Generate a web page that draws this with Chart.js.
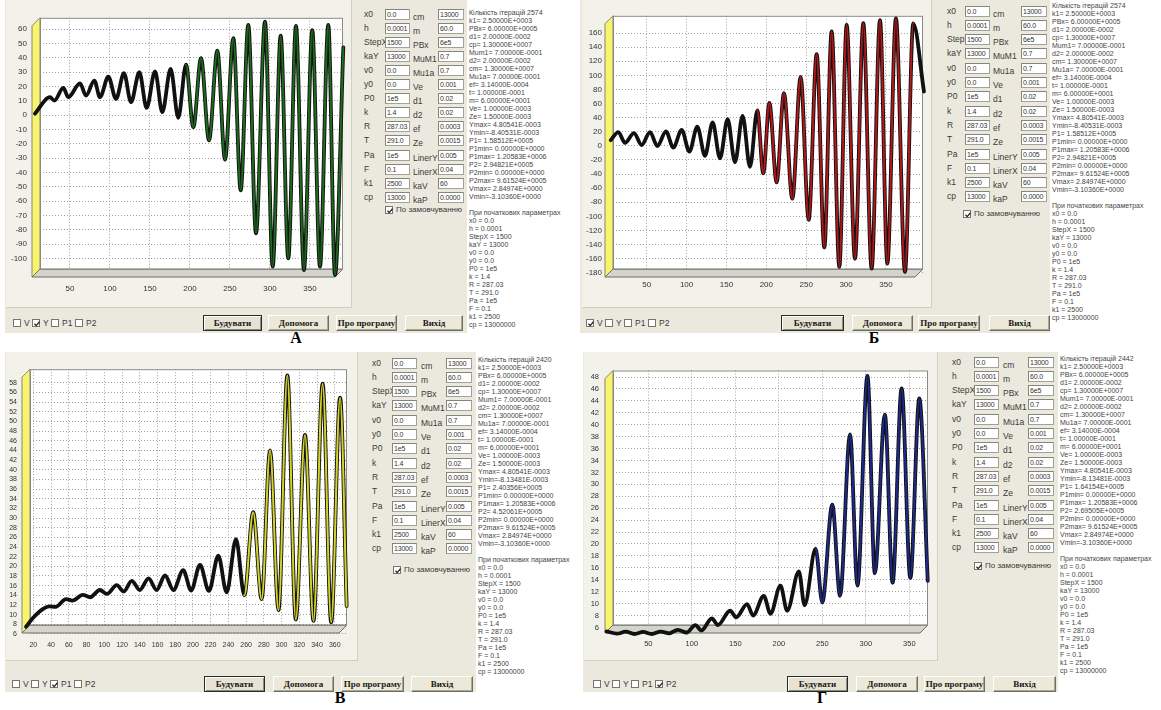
<!DOCTYPE html>
<html>
<head>
<meta charset="utf-8">
<title>Y, V, P1, P2</title>
<script src="https://cdn.jsdelivr.net/npm/chart.js@4.4.1/dist/chart.umd.min.js"></script>
<style>
  html, body { margin: 0; padding: 0; background: #fff; }
  body { position: relative; width: 1161px; height: 710px; overflow: hidden;
         font-family: "Liberation Sans", Arial, sans-serif; color: #2a2a2a; }
  .abs { position: absolute; box-sizing: border-box; }
  .win { background: #ebe9de; }
  .cpanel { background: #f2f1ea; border-right: 1px solid #d2cfc2; border-bottom: 1px solid #d2cfc2; }
  .lbl { font-size: 8.5px; line-height: 10px; white-space: nowrap; color: #3a3a3a; }
  .lbl.small { font-size: 8px; }
  .inp { background: #fff; border: 1px solid #a3a299; border-top-color: #86857c; border-left-color: #86857c;
         font-size: 7px; letter-spacing: -0.2px; line-height: 9px; padding-left: 1px; white-space: nowrap; overflow: hidden; color: #333; }
  .cb { width: 8px; height: 8px; border: 1px solid #77766e; background: #fff; }
  .cb svg { position: absolute; left: 0; top: 0; }
  .btn { background: #ece9d8; border: 1px solid; border-color: #fff #6f6d63 #6f6d63 #fff;
         box-shadow: inset -1px -1px #aca899; font-family: "Liberation Serif", serif; font-weight: bold;
         font-size: 9px; text-align: center; color: #1a1a1a; white-space: nowrap; }
  .btn.def { border: 1px solid #2a2a2a; box-shadow: inset 1px 1px #fff, inset -1px -1px #8d8b80; background: #e6e3d3; }
  .log { background: #fff; font-size: 7px; line-height: 8px; white-space: pre; overflow: hidden; color: #444; padding-left: 2px; }
  .letter { font-family: "Liberation Serif", serif; font-weight: bold; font-size: 16px; line-height: 16px; color: #000; }
</style>
</head>
<body>
<script>
// А: Y (displacement)
const yX   = [6.2, 25, 30.4, 41.7, 47.9, 62.5, 70, 80.4, 87.5, 97.9, 107.5, 117.5, 126.3, 136.7, 145.8, 156.3, 165.4, 175.8, 185.4, 195,
              204.2, 213.8, 223.8, 234.2, 243.8, 254.2, 263.4, 272.9, 282.5, 293.8, 303.4, 313.4, 322.9, 332.5, 342.5, 352.9, 362.5, 372.9, 381.3, 391.7];
const yVal = [1, 12.5, 10.1, 19, 12.5, 22.2, 13.6, 24.1, 12.5, 26.8, 11.3, 29.2, 9, 29.9, 5, 30.5, 2, 32.2, -1.9, 35.2,
              -8.4, 39.8, -17.7, 44.9, -31.1, 53.7, -52.5, 63, -82.6, 65.3, -105.8, 55.4, -100, 62.3, -108.1, 59.3, -105.8, 63, -111.6, 47.2];

// Б: V (velocity)
const vX   = [4.9, 14.5, 22.8, 34.1, 43.7, 54.2, 63.4, 74.2, 83.4, 93.9, 103.5, 113.5, 123.1, 132.7, 141.9, 151.5, 160.7, 170.3, 179.5, 188.7,
              196.2, 203.8, 212.9, 222.1, 232.6, 243, 253.1, 263.1, 272.7, 281.9, 291.5, 300.7, 311.1, 321.6, 332, 342.5, 351.7, 362.5, 373.8, 384.2, 397.6];
const vVal = [8, 19.5, 4.3, 18.1, 1.1, 19.5, -0.3, 20.4, -2.6, 22.7, -8.2, 27.3, -14.1, 33.3, -17.8, 37.9, -23.4, 42.5, -29.8, 50.4,
              -39, 61, -51.9, 74.8, -75, 97.8, -104.9, 130.1, -144, 162.3, -171.7, 171.5, -160.2, 173.8, -174, 178.4, -167.1, 180.7, -178.6, 173.8, 77.1];

// В: P1
const p1X   = [11.7, 20, 31, 38, 45, 57, 64, 76, 84, 95, 103, 114, 122, 131, 140, 150, 159, 168.5, 178, 189,
               198, 208, 218, 228.6, 238, 248.6, 258, 268, 277.5, 287, 296.5, 306.5, 316, 326.4, 336, 346.3, 356, 366, 373.4];
const p1Val = [7.5, 9.4, 11.2, 11.7, 11.6, 13.2, 12.9, 14.1, 13.6, 15.1, 14.3, 16.1, 14.8, 17, 15.1, 17.5, 15.1, 18.1, 15.1, 19.2,
               15, 20.3, 14.9, 22.2, 14.6, 25.6, 14, 31.2, 13.2, 44, 10.9, 59.5, 9, 47.2, 8.7, 57.8, 8.4, 54.9, 11.8];

// Г: P2
const p2X   = [2, 14, 24, 34, 44, 54, 64, 74, 84, 94, 104, 111, 123, 130, 144, 151, 163.5, 170.5, 182.7, 190.4,
               201.9, 209.6, 223.1, 229.6, 242.3, 250, 261.5, 270.4, 281.9, 290.4, 301.9, 310.4, 321.9, 330.8, 341.2, 351.2, 361.5, 371.2];
const p2Val = [5.35, 4.95, 5.3, 4.9, 5.25, 4.9, 5.3, 5.0, 5.6, 5.15, 6.4, 5.5, 7.5, 6.4, 8.8, 7.7, 9.9, 8, 11.3, 8.3,
               13, 8.8, 15.4, 9.7, 19.2, 10.2, 26.6, 11.3, 38.4, 13, 48.2, 15.1, 41.7, 13.5, 46.1, 14.3, 44.4, 13.8];

// tick labels
const xTicksA = [50, 100, 150, 200, 250, 300, 350];
const yTicksA = [-100, -90, -80, -70, -60, -50, -40, -30, -20, -10, 0, 10, 20, 30, 40, 50, 60];
const xTicksB = [50, 100, 150, 200, 250, 300, 350];
const yTicksB = [-180, -160, -140, -120, -100, -80, -60, -40, -20, 0, 20, 40, 60, 80, 100, 120, 140, 160];
const xTicksC = [20, 40, 60, 80, 100, 120, 140, 160, 180, 200, 220, 240, 260, 280, 300, 320, 340, 360];
const yTicksC = [6, 8, 10, 12, 14, 16, 18, 20, 22, 24, 26, 28, 30, 32, 34, 36, 38, 40, 42, 44, 46, 48, 50, 52, 54, 56, 58];
const xTicksD = [50, 100, 150, 200, 250, 300, 350];
const yTicksD = [6, 8, 10, 12, 14, 16, 18, 20, 22, 24, 26, 28, 30, 32, 34, 36, 38, 40, 42, 44, 46, 48];

// form fields
const leftNames  = ['x0', 'h', 'StepX', 'kaY', 'v0', 'y0', 'P0', 'k', 'R', 'T', 'Pa', 'F', 'k1', 'cp'];
const leftVals   = ['0.0', '0.0001', '1500', '13000', '0.0', '0.0', '1e5', '1.4', '287.03', '291.0', '1e5', '0.1', '2500', '13000'];
const rightNames = ['cm', 'm', 'PBx', 'MuM1', 'Mu1a', 'Ve', 'd1', 'd2', 'ef', 'Ze', 'LinerY', 'LinerX', 'kaV', 'kaP'];
const rightVals  = ['13000', '60.0', '6e5', '0.7', '0.7', '0.001', '0.02', '0.02', '0.0003', '0.0015', '0.005', '0.04', '60', '0.0000'];
const startParams = ['x0 = 0.0', 'h = 0.0001', 'StepX = 1500', 'kaY = 13000', 'v0 = 0.0', 'y0 = 0.0', 'P0 = 1e5',
                     'k = 1.4', 'R = 287.03', 'T = 291.0', 'Pa = 1e5', 'F = 0.1', 'k1 = 2500', 'cp = 13000000'];
const checkNames = ['V', 'Y', 'P1', 'P2'];
const buttonNames = ['Будувати', 'Допомога', 'Про програму', 'Вихід'];

const DEPTH = 8;

function logText(iter, ymin, p1, p2) {
  return ['Кількість ітерацій ' + iter,
    'k1= 2.50000E+0003', 'PBx= 6.00000E+0005', 'd1= 2.00000E-0002', 'cp= 1.30000E+0007',
    'Mum1= 7.00000E-0001', 'd2= 2.00000E-0002', 'cm= 1.30000E+0007', 'Mu1a= 7.00000E-0001',
    'ef= 3.14000E-0004', 't= 1.00000E-0001', 'm= 6.00000E+0001', 'Ve= 1.00000E-0003',
    'Ze= 1.50000E-0003', 'Ymax= 4.80541E-0003', 'Ymin=' + ymin, 'P1= ' + p1,
    'P1min= 0.00000E+0000', 'P1max= 1.20583E+0006', 'P2= ' + p2, 'P2min= 0.00000E+0000',
    'P2max= 9.61524E+0005', 'Vmax= 2.84974E+0000', 'Vmin=-3.10360E+0000',
    '', 'При початкових параметрах'].concat(startParams).join('\n');
}

const panels = [
  { win: [5, 0, 462, 333], cpanel: [6, 0, 346, 308],
    area: {L: 40, T: 17, R: 343, B: 277}, xr: [12.5, 391.3], yr: [-113, 67.9], yPad: 13, xPad: 7, font: 8,
    xs: yX, ys: yVal, xTicks: xTicksA, yTicks: yTicksA, color: '#1e6a1e',
    form: {lab1: 364, in1: 385, w1: 25, lab2: 413, in2: 438, w2: 26, top: 8.5, step: 14.1},
    def: {x: 385, y: 210},
    log: [467, 8, 106, 325], logPad: 1, logText: logText(2574, '-8.40531E-0003', '1.58512E+0005', '2.94821E+0005'),
    checks: {x: 13, y: 323}, checked: 1,
    btnY: 315, btnH: 16, btns: [[203, 59], [268, 61], [336, 61], [405, 58]],
    letter: {ch: 'А', x: 296, y: 338} },
  { win: [580, 0, 470, 333], cpanel: [582, 0, 350, 308],
    area: {L: 613, T: 9, R: 923, B: 277}, xr: [7.8, 396.4], yr: [-186, 184.4], yPad: 11, xPad: 3, font: 8,
    xs: vX, ys: vVal, xTicks: xTicksB, yTicks: yTicksB, color: '#b0181c',
    form: {lab1: 947, in1: 965, w1: 25, lab2: 993, in2: 1021, w2: 26, top: 5.5, step: 14.3},
    def: {x: 963, y: 214},
    log: [1050, 0, 108, 333], logPad: 2, logText: logText(2574, '-8.40531E-0003', '1.58512E+0005', '2.94821E+0005'),
    checks: {x: 586, y: 323}, checked: 0,
    btnY: 315, btnH: 16, btns: [[781, 63], [852, 61], [918, 62], [989, 61]],
    letter: {ch: 'Б', x: 874, y: 338} },
  { win: [5, 352, 471, 340], cpanel: [6, 352, 352, 309],
    area: {L: 30, T: 368, R: 347, B: 633}, xr: [16.2, 373.8], yr: [6.2, 60.8], yPad: 13, xPad: 8, font: 7,
    xs: p1X, ys: p1Val, xTicks: xTicksC, yTicks: yTicksC, color: '#d6d42a',
    form: {lab1: 372, in1: 392, w1: 25, lab2: 421, in2: 446, w2: 26, top: 357.5, step: 14.3},
    def: {x: 393, y: 570},
    log: [476, 352, 104, 340], logPad: 4, logText: logText(2420, '-8.13481E-0003', '2.40356E+0005', '4.52061E+0005'),
    checks: {x: 12, y: 684}, checked: 2,
    btnY: 676, btnH: 16, btns: [[204, 61], [273, 61], [341, 63], [411, 62]],
    letter: {ch: 'В', x: 340, y: 698} },
  { win: [583, 352, 475, 340], cpanel: [584, 352, 354, 309],
    area: {L: 613, T: 365, R: 928, B: 633}, xr: [9.4, 371.5], yr: [5.07, 49.1], yPad: 14, xPad: 6, font: 7.5,
    xs: p2X, ys: p2Val, xTicks: xTicksD, yTicks: yTicksD, color: '#1c2a8c',
    form: {lab1: 952, in1: 974, w1: 25, lab2: 1003, in2: 1028, w2: 26, top: 356.5, step: 14.3},
    def: {x: 974, y: 566},
    log: [1058, 352, 103, 340], logPad: 3, logText: logText(2442, '-8.13481E-0003', '1.64154E+0005', '2.69505E+0005'),
    checks: {x: 593, y: 684}, checked: 3,
    btnY: 676, btnH: 16, btns: [[787, 61], [856, 62], [924, 61], [993, 63]],
    letter: {ch: 'Г', x: 822, y: 698} }
];

function box(cls, x, y, w, h, html) {
  const d = document.createElement('div');
  d.className = 'abs ' + cls;
  d.style.left = x + 'px';
  d.style.top = y + 'px';
  if (w != null) d.style.width = w + 'px';
  if (h != null) d.style.height = h + 'px';
  if (html != null) d.innerHTML = html;
  document.body.appendChild(d);
  return d;
}

const tick = '<svg width="8" height="8"><path d="M1.5 3.8 L3.2 5.6 L6.5 1.8" stroke="#222" stroke-width="1.3" fill="none"/></svg>';

function checkbox(x, y, on) {
  box('cb', x, y - 4, null, null, on ? tick : '');
}

function poly(ctx, pts, fill, stroke) {
  ctx.beginPath();
  pts.forEach((p, i) => i ? ctx.lineTo(p[0], p[1]) : ctx.moveTo(p[0], p[1]));
  ctx.closePath();
  ctx.fillStyle = fill;
  ctx.fill();
  ctx.strokeStyle = stroke;
  ctx.lineWidth = 1;
  ctx.stroke();
}

// TeeChart-like 3D box: white back wall, yellow left wall, grey floor
const wall3d = {
  id: 'wall3d',
  beforeDraw(chart) {
    const {ctx, chartArea: a} = chart;
    const d = DEPTH;
    ctx.save();
    ctx.fillStyle = '#fff';
    ctx.fillRect(a.left, a.top, a.right - a.left, a.bottom - d - a.top);
    poly(ctx, [[a.left - d, a.top + d], [a.left, a.top], [a.left, a.bottom - d], [a.left - d, a.bottom]], '#f8f56c', '#85847a');
    ctx.restore();
  },
  beforeDatasetsDraw(chart) {
    const {ctx, chartArea: a} = chart;
    const d = DEPTH;
    ctx.save();
    poly(ctx, [[a.left, a.bottom - d], [a.right, a.bottom - d], [a.right - d, a.bottom], [a.left - d, a.bottom]], '#d4d3cc', '#6f6e66');
    ctx.strokeStyle = '#8a8a84';
    ctx.lineWidth = 1;
    ctx.strokeRect(a.left + 0.5, a.top + 0.5, a.right - a.left - 1, a.bottom - d - a.top);
    ctx.restore();
  }
};

function makeChart(p) {
  const [cl, ct, cw, ch] = p.cpanel;
  const a = p.area;
  const canvas = document.createElement('canvas');
  canvas.width = cw;
  canvas.height = ch;
  canvas.style.cssText = `position:absolute;left:${cl}px;top:${ct}px;width:${cw}px;height:${ch}px;`;
  document.body.appendChild(canvas);

  const pts = p.xs.map((x, i) => ({x: x, y: p.ys[i]}));
  const line = {pointRadius: 0, cubicInterpolationMode: 'monotone', clip: false, fill: false,
                borderCapStyle: 'round', borderJoinStyle: 'round'};
  // the coloured face of the ribbon only shows on the steep strokes
  const steep = ctx => {
    const dx = Math.abs(ctx.p1.x - ctx.p0.x) || 1;
    return Math.abs(ctx.p1.y - ctx.p0.y) / dx > 8 ? p.color : 'rgba(0,0,0,0)';
  };
  const font = {family: 'Liberation Sans', size: p.font};
  const grid = {color: '#a0a0a0', lineWidth: 1, drawTicks: false};
  const border = {display: false, dash: [1, 2]};

  new Chart(canvas, {
    type: 'line',
    data: {
      datasets: [
        Object.assign({data: pts, borderColor: p.color, borderWidth: 2, order: 0, segment: {borderColor: steep}}, line),
        Object.assign({data: pts, borderColor: '#111', borderWidth: 3.8, order: 1}, line)
      ]
    },
    options: {
      responsive: false,
      animation: false,
      events: [],
      layout: {padding: {left: 0, top: a.T - ct, right: cl + cw - a.R, bottom: 0}},
      plugins: {legend: {display: false}, tooltip: {enabled: false}},
      scales: {
        x: {
          type: 'linear', min: p.xr[0], max: p.xr[1],
          afterFit: s => { s.height = ct + ch - a.B; },
          afterBuildTicks: s => { s.ticks = p.xTicks.map(v => ({value: v})); },
          grid: grid, border: border,
          ticks: {padding: p.xPad, autoSkip: false, maxRotation: 0, color: '#333', font: font}
        },
        y: {
          type: 'linear', min: p.yr[0], max: p.yr[1],
          afterFit: s => { s.width = a.L - cl; },
          afterBuildTicks: s => { s.ticks = p.yTicks.map(v => ({value: v})); },
          grid: grid, border: border,
          ticks: {padding: p.yPad, autoSkip: false, color: '#333', font: font}
        }
      }
    },
    plugins: [wall3d]
  });
}

function buildPanel(p) {
  box('win', p.win[0], p.win[1], p.win[2], p.win[3]);
  box('cpanel', p.cpanel[0], p.cpanel[1], p.cpanel[2], p.cpanel[3]);
  makeChart(p);

  const f = p.form;
  for (let i = 0; i < 14; i++) {
    const y = f.top + i * f.step;
    box('lbl', f.lab1, y, null, null, leftNames[i]);
    box('inp', f.in1, y, f.w1, 11, leftVals[i]);
    box('lbl', f.lab2, y + 3, null, null, rightNames[i]);
    box('inp', f.in2, y, f.w2, 11, rightVals[i]);
  }
  checkbox(p.def.x, p.def.y, true);
  box('lbl small', p.def.x + 11, p.def.y - 5, null, null, 'По замовчуванню');

  const lg = box('log', p.log[0], p.log[1], p.log[2], p.log[3]);
  lg.style.paddingTop = p.logPad + 'px';
  lg.textContent = p.logText;

  const offs = [0, 19, 38, 62];
  checkNames.forEach((n, i) => {
    checkbox(p.checks.x + offs[i], p.checks.y, i === p.checked);
    box('lbl', p.checks.x + offs[i] + 11, p.checks.y - 5, null, null, n);
  });

  p.btns.forEach((b, i) => {
    const el = box('btn' + (i === 0 ? ' def' : ''), b[0], p.btnY, b[1], p.btnH, buttonNames[i]);
    el.style.lineHeight = (p.btnH - 2) + 'px';
  });

  const L = box('letter', p.letter.x - 8, p.letter.y - 8, 16, 16, p.letter.ch);
  L.style.textAlign = 'center';
}

panels.forEach(buildPanel);
</script>
</body>
</html>
